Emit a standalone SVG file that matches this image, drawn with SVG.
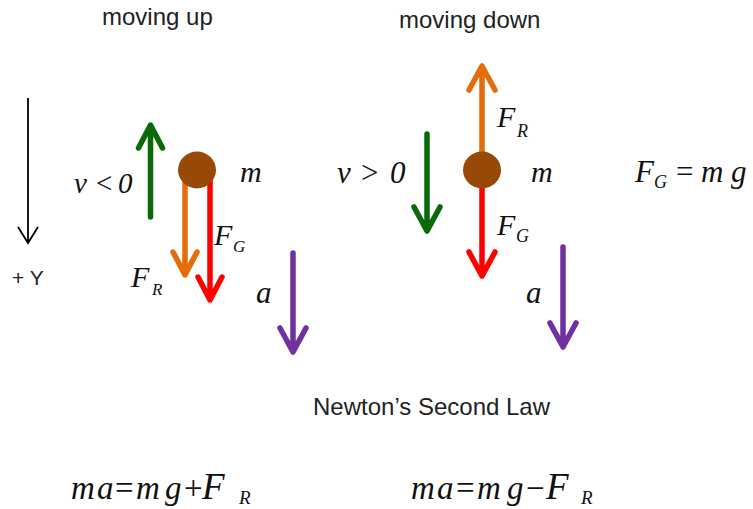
<svg xmlns="http://www.w3.org/2000/svg" width="753" height="509" viewBox="0 0 753 509">
<style>
.sans{font-family:"Liberation Sans",Arial,sans-serif;fill:#222}
.math{font-family:"Liberation Serif","Times New Roman",serif;font-style:italic;fill:#111}
.up{font-style:normal}
.arr{fill:none;stroke-width:5.5;stroke-linecap:round;stroke-linejoin:round}
.green{stroke:#0A6A0A}
.orange{stroke:#E46C0A}
.red{stroke:#FF0000}
.purple{stroke:#7030A0}
.ball{fill:#984807}
</style>
<rect width="753" height="509" fill="#fff"/>
<g id="connectors">
  <path id="axis-y" d="M28 98 V242 M18 227 L28 243 L38 227" fill="none" stroke="#000" stroke-width="1.8"/>
  <path id="v-up" class="arr green" d="M150.5 217 V126 M138.5 148 L150.5 125 L162.5 148"/>
  <path id="fr-up-left" class="arr orange" d="M185 178 V274 M173 252 L185 275 L197 252"/>
  <path id="fg-left" class="arr red" d="M210 172 V299 M198 277 L210 300 L222 277"/>
  <path id="a-left" class="arr purple" d="M293 253 V351 M280 328 L293 352 L306 328"/>
  <path id="fr-right" class="arr orange" d="M482 165 V67 M469 90 L482 66 L495 90"/>
  <path id="fg-right" class="arr red" d="M482 178 V275 M469 252 L482 276 L495 252"/>
  <path id="v-down" class="arr green" d="M427 134 V230 M414 207 L427 231 L440 207"/>
  <path id="a-right" class="arr purple" d="M563 247 V346 M550 323 L563 347 L576 323"/>
</g>
<g id="mass-up"><ellipse class="ball" cx="197" cy="170" rx="19" ry="18.5"/></g>
<g id="mass-down"><ellipse class="ball" cx="482" cy="170" rx="19" ry="18.5"/></g>
<g id="titles">
  <text class="sans" x="102" y="25" font-size="24">moving up</text>
  <text class="sans" x="399" y="28" font-size="24">moving down</text>
  <text class="sans" x="12" y="285" font-size="21">+ Y</text>
  <text class="sans" x="313" y="415" font-size="24">Newton’s Second Law</text>
</g>
<g id="labels-up" class="math">
  <text font-size="29" y="193"><tspan x="74">v</tspan><tspan class="up" x="96">&lt;</tspan><tspan x="118">0</tspan></text>
  <text font-size="30" x="240" y="182">m</text>
  <text font-size="30" x="214" y="245">F</text><text font-size="17" x="233" y="252">G</text>
  <text font-size="30" x="131" y="287">F</text><text font-size="17" x="152" y="295">R</text>
  <text font-size="31" x="256" y="303">a</text>
</g>
<g id="labels-down" class="math">
  <text font-size="31" y="183"><tspan x="337">v</tspan><tspan class="up" x="361">&gt;</tspan><tspan x="390">0</tspan></text>
  <text font-size="30" x="531" y="182">m</text>
  <text font-size="30" x="497" y="127">F</text><text font-size="18" x="517" y="137">R</text>
  <text font-size="30" x="497" y="235">F</text><text font-size="18" x="516" y="242">G</text>
  <text font-size="31" x="526" y="303">a</text>
</g>
<g id="fg-def" class="math">
  <text font-size="31" y="182"><tspan x="635">F</tspan><tspan class="up" x="676">=</tspan><tspan x="701">m</tspan><tspan x="731">g</tspan></text>
  <text font-size="18" x="654" y="188">G</text>
</g>
<g id="eq-up" class="math">
  <text font-size="33" y="499"><tspan x="71">m</tspan><tspan x="97">a</tspan><tspan class="up" x="115">=</tspan><tspan x="136">m</tspan><tspan x="165">g</tspan><tspan class="up" x="184">+</tspan><tspan x="202" font-size="37">F</tspan></text>
  <text font-size="19" x="239" y="504">R</text>
</g>
<g id="eq-down" class="math">
  <text font-size="33" y="499"><tspan x="411">m</tspan><tspan x="437">a</tspan><tspan class="up" x="456">=</tspan><tspan x="477">m</tspan><tspan x="507">g</tspan><tspan class="up" x="526">−</tspan><tspan x="546" font-size="37">F</tspan></text>
  <text font-size="19" x="581" y="504">R</text>
</g>
</svg>
